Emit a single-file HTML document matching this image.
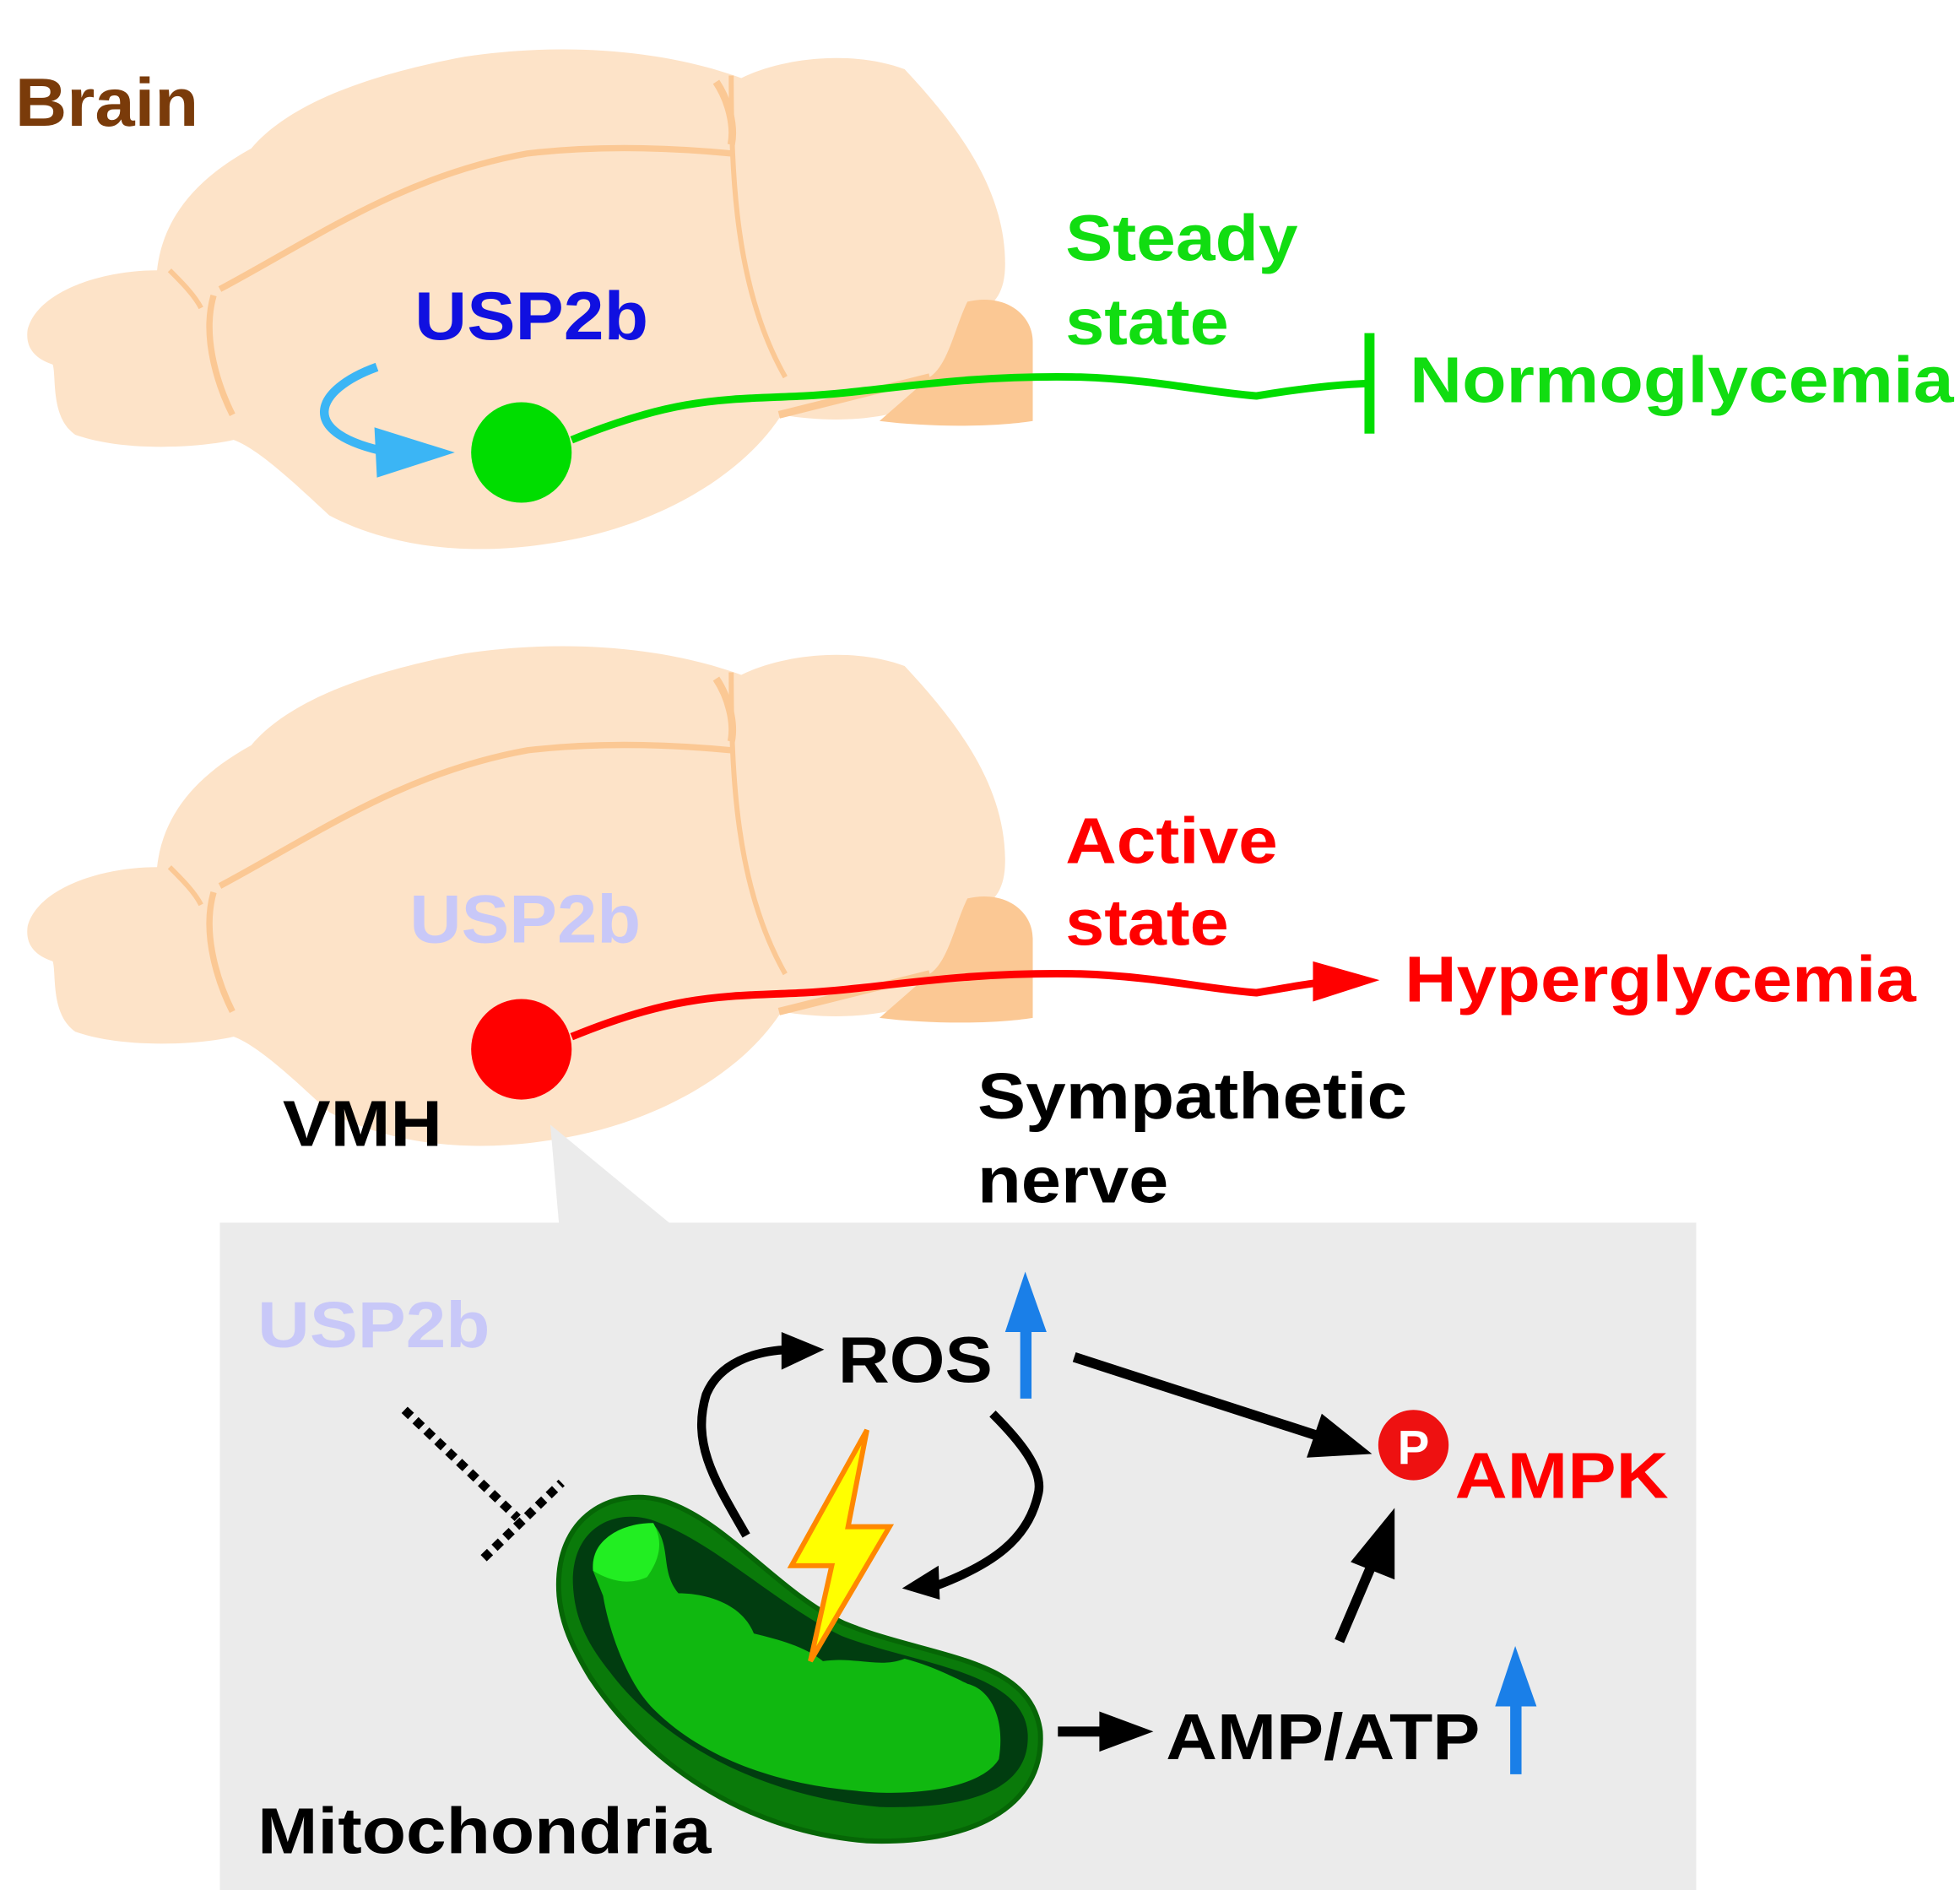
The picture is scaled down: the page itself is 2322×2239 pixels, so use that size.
<!DOCTYPE html>
<html><head><meta charset="utf-8"><style>
html,body{margin:0;padding:0;background:#fff}
svg{display:block}
text{font-family:"Liberation Sans",Arial,sans-serif;font-weight:bold}
</style></head><body>
<svg width="2322" height="2239" viewBox="0 0 1560 1504" xmlns="http://www.w3.org/2000/svg">
<defs>
<g id="brain">
<path d="M22,262 C30,232 80,215 125,215 C130,170 160,140 200,118 C232,80 300,58 370,45 C450,33 530,40 590,62 C625,45 680,40 720,55 C762,100 800,150 800,210 C800,232 792,242 780,248 L760,300 C740,330 680,340 622,330 C590,380 520,420 440,432 C360,445 300,430 262,410 C232,382 205,357 186,350 C160,356 100,360 60,346 C40,332 45,300 42,290 C27,285 20,276 22,262 Z" fill="#fde3c8"/>
<path d="M770,240 C800,233 822,250 822,272 L822,335 C790,340 740,340 700,335 L740,300 C755,290 760,260 770,240 Z" fill="#fbc894"/>
<path d="M620,330 C660,320 700,310 740,300" stroke="#fbc894" stroke-width="6" fill="none"/>
<path d="M175,230 C250,190 320,140 420,122 C480,115 540,118 582,122" stroke="#fbc894" stroke-width="5" fill="none"/>
<path d="M582,60 C582,140 585,230 625,300" stroke="#fbc894" stroke-width="4" fill="none"/>
<path d="M570,65 C580,80 585,100 582,115" stroke="#fbc894" stroke-width="6" fill="none"/>
<path d="M170,235 C160,270 175,310 185,330" stroke="#fbc894" stroke-width="5" fill="none"/>
<path d="M135,215 C145,225 155,235 160,245" stroke="#fbc894" stroke-width="4" fill="none"/>
</g>
</defs>
<text x="12" y="100" font-size="54" fill="#7a3b0a" textLength="146" lengthAdjust="spacingAndGlyphs">Brain</text>
<use href="#brain"/>
<use href="#brain" y="475"/>
<text x="330" y="270" font-size="54" fill="#1010e0" textLength="186" lengthAdjust="spacingAndGlyphs">USP2b</text>
<path d="M300,292 C250,310 235,345 310,360" stroke="#3bb5f5" stroke-width="7" fill="none"/>
<polygon points="298,340 362,360 300,380" fill="#3bb5f5"/>
<circle cx="415" cy="360" r="40" fill="#00dd00"/>
<path d="M455,350 C540,315 580,318 640,315 C700,312 760,298 860,300 C920,302 960,312 1000,315 C1030,310 1060,306 1090,305" stroke="#00dd00" stroke-width="6" fill="none"/>
<rect x="1086" y="265" width="8" height="80" fill="#00dd00"/>
<text x="848" y="207" font-size="52" fill="#11dd11" textLength="185" lengthAdjust="spacingAndGlyphs">Steady</text>
<text x="848" y="274" font-size="52" fill="#11dd11" textLength="130" lengthAdjust="spacingAndGlyphs">state</text>
<text x="1122" y="320" font-size="52" fill="#11dd11" textLength="433" lengthAdjust="spacingAndGlyphs">Normoglycemia</text>
<text x="326" y="750" font-size="54" fill="#c8c8f8" textLength="184" lengthAdjust="spacingAndGlyphs">USP2b</text>
<circle cx="415" cy="835" r="40" fill="#ff0000"/>
<path d="M455,825 C540,790 580,793 640,790 C700,787 760,773 860,775 C920,777 960,787 1000,790 C1030,785 1045,782 1060,781" stroke="#ff0000" stroke-width="6" fill="none"/>
<polygon points="1045,765 1098,780 1045,797" fill="#ff0000"/>
<text x="848" y="687" font-size="52" fill="#ff0000" textLength="169" lengthAdjust="spacingAndGlyphs">Active</text>
<text x="848" y="752" font-size="52" fill="#ff0000" textLength="130" lengthAdjust="spacingAndGlyphs">state</text>
<text x="1118" y="797" font-size="52" fill="#ff0000" textLength="407" lengthAdjust="spacingAndGlyphs">Hyperglycemia</text>
<text x="225" y="912" font-size="52" fill="#000" textLength="127" lengthAdjust="spacingAndGlyphs">VMH</text>
<text x="778" y="890" font-size="52" fill="#000" textLength="342" lengthAdjust="spacingAndGlyphs">Sympathetic</text>
<text x="778" y="957" font-size="52" fill="#000" textLength="152" lengthAdjust="spacingAndGlyphs">nerve</text>
<polygon points="438,895 445,975 535,975" fill="#ebebeb"/>
<rect x="175" y="973" width="1175" height="535" fill="#ebebeb"/>
<text x="205" y="1072" font-size="52" fill="#c8c8f8" textLength="185" lengthAdjust="spacingAndGlyphs">USP2b</text>
<text x="667" y="1100" font-size="52" fill="#000" textLength="123" lengthAdjust="spacingAndGlyphs">ROS</text>
<rect x="812" y="1055" width="9" height="58" fill="#1a7fe8"/>
<polygon points="800,1060 816,1012 833,1060" fill="#1a7fe8"/>
<line x1="855" y1="1080" x2="1050" y2="1143" stroke="#000" stroke-width="8"/>
<polygon points="1040,1160 1092,1157 1052,1125" fill="#000"/>
<circle cx="1125" cy="1150" r="28" fill="#ee1111"/>
<text x="1125" y="1165" font-size="38" fill="#fff" text-anchor="middle">P</text>
<text x="1158" y="1192" font-size="52" fill="#ff0000" textLength="170" lengthAdjust="spacingAndGlyphs">AMPK</text>
<text x="928" y="1400" font-size="52" fill="#000" textLength="250" lengthAdjust="spacingAndGlyphs">AMP/ATP</text>
<rect x="1202" y="1352" width="9" height="60" fill="#1a7fe8"/>
<polygon points="1190,1358 1206,1310 1223,1358" fill="#1a7fe8"/>
<line x1="1066" y1="1306" x2="1092" y2="1245" stroke="#000" stroke-width="8"/>
<polygon points="1075,1243 1110,1200 1110,1257" fill="#000"/>
<line x1="842" y1="1378" x2="880" y2="1378" stroke="#000" stroke-width="8"/>
<polygon points="875,1362 918,1378 875,1394" fill="#000"/>
<line x1="322" y1="1122" x2="412" y2="1208" stroke="#000" stroke-width="7" stroke-dasharray="7,5"/>
<line x1="385" y1="1240" x2="447" y2="1180" stroke="#000" stroke-width="7" stroke-dasharray="7,5"/>
<path d="M594,1222 C570,1180 550,1150 562,1110 C572,1085 600,1075 628,1074" stroke="#000" stroke-width="7" fill="none"/>
<polygon points="622,1060 656,1074 622,1090" fill="#000"/>
<path d="M790,1125 C810,1145 832,1170 826,1190 C818,1225 790,1245 745,1262" stroke="#000" stroke-width="7" fill="none"/>
<polygon points="747,1246 718,1264 748,1273" fill="#000"/>
<path d="M445,1270 C440,1205 490,1182 530,1195 C580,1212 620,1268 672,1292 C740,1320 820,1318 828,1378 C832,1440 770,1468 690,1465 C600,1458 520,1410 470,1335 C455,1310 447,1292 445,1270 Z" fill="#0a7a0a" stroke="#066606" stroke-width="4"/>
<path d="M456,1260 C455,1215 490,1200 520,1210 C570,1228 615,1275 670,1302 C730,1325 815,1330 818,1380 C820,1425 770,1440 700,1438 C610,1430 530,1390 485,1330 C465,1305 457,1285 456,1260 Z" fill="#013d10"/>
<path d="M472,1250 C470,1220 500,1215 520,1213 C535,1230 525,1250 540,1268 C560,1268 590,1275 600,1300 C620,1305 640,1310 655,1322 C680,1318 700,1328 720,1320 C740,1325 760,1335 770,1340 C790,1345 800,1370 795,1400 C780,1425 720,1430 680,1425 C620,1420 560,1400 520,1360 C500,1340 485,1300 480,1270 Z" fill="#10b810"/>
<path d="M472,1250 C470,1225 495,1212 520,1212 C530,1230 522,1245 515,1255 C500,1262 485,1258 472,1250 Z" fill="#22ee22"/>
<polygon points="690,1138 630,1246 662,1246 645,1322 708,1215 675,1215" fill="#ffff00" stroke="#ff8800" stroke-width="4"/>
<text x="205" y="1475" font-size="52" fill="#000" textLength="361" lengthAdjust="spacingAndGlyphs">Mitochondria</text>
</svg>
</body></html>
